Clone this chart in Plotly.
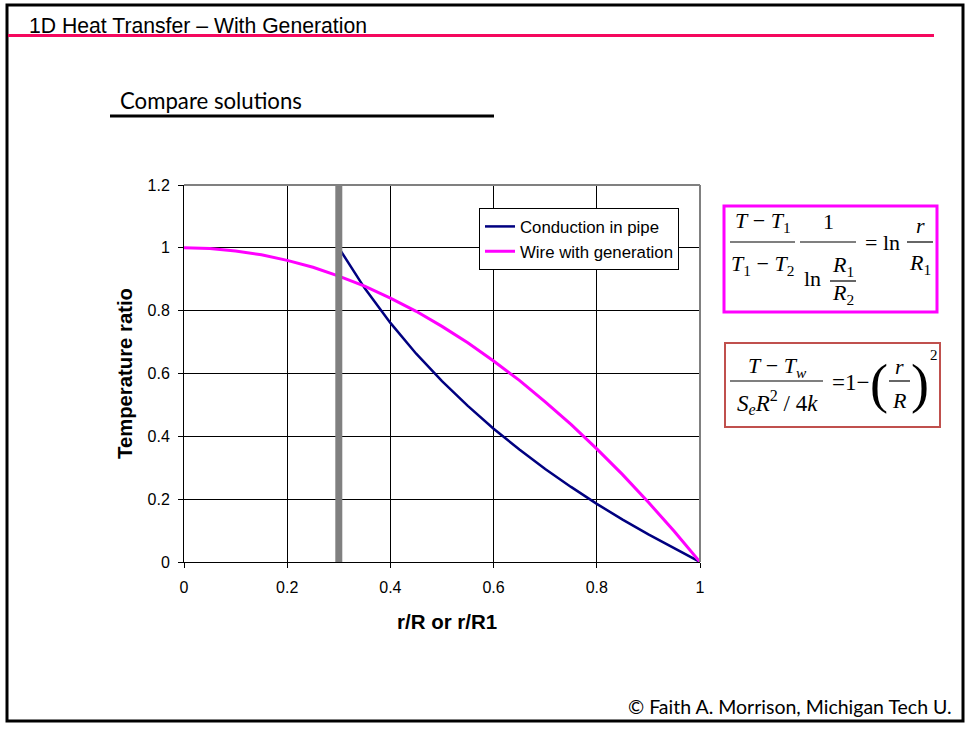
import plotly.graph_objects as go

W, H = 968, 729

# ---------------- data ----------------
pipe_r = [0.30, 0.35, 0.40, 0.45, 0.50, 0.55, 0.60, 0.65, 0.70, 0.75, 0.80, 0.85, 0.90, 0.95, 1.00]
pipe_T = [1.000, 0.872, 0.761, 0.663, 0.576, 0.497, 0.424, 0.358, 0.296, 0.239, 0.185, 0.135, 0.088, 0.043, 0.000]

wire_r = [0.00, 0.05, 0.10, 0.15, 0.20, 0.25, 0.30, 0.35, 0.40, 0.45, 0.50,
          0.55, 0.60, 0.65, 0.70, 0.75, 0.80, 0.85, 0.90, 0.95, 1.00]
wire_T = [1.000, 0.998, 0.990, 0.978, 0.960, 0.938, 0.910, 0.878, 0.840, 0.798, 0.750,
          0.698, 0.640, 0.578, 0.510, 0.438, 0.360, 0.278, 0.190, 0.098, 0.000]

inner_radius = 0.3
x_ticks = [0, 0.2, 0.4, 0.6, 0.8, 1]
x_tick_labels = ["0", "0.2", "0.4", "0.6", "0.8", "1"]
y_ticks = [0, 0.2, 0.4, 0.6, 0.8, 1, 1.2]
y_tick_labels = ["0", "0.2", "0.4", "0.6", "0.8", "1", "1.2"]


def px(x):
    return x / W


def py(y):
    return 1 - y / H


fig = go.Figure()
fig.add_trace(go.Scatter(x=pipe_r, y=pipe_T, mode="lines", name="Conduction in pipe",
                         line=dict(color="#000080", width=2.5)))
fig.add_trace(go.Scatter(x=wire_r, y=wire_T, mode="lines", name="Wire with generation",
                         line=dict(color="#FF00FF", width=3)))

shapes = []
annotations = []

# slide border
shapes.append(dict(type="rect", xref="paper", yref="paper", x0=px(7), x1=px(963), y0=py(721), y1=py(5),
                   line=dict(color="black", width=3)))
# title underline
shapes.append(dict(type="line", xref="paper", yref="paper", x0=px(8), x1=px(934), y0=py(35.5), y1=py(35.5),
                   line=dict(color="#F5085E", width=3)))
# subtitle underline
shapes.append(dict(type="line", xref="paper", yref="paper", x0=px(110), x1=px(494), y0=py(116), y1=py(116),
                   line=dict(color="black", width=3)))
# plot frame top/right gray
shapes.append(dict(type="line", xref="x domain", yref="y domain", x0=0, x1=1, y0=1, y1=1,
                   line=dict(color="#808080", width=2)))
shapes.append(dict(type="line", xref="x domain", yref="y domain", x0=1, x1=1, y0=0, y1=1,
                   line=dict(color="#808080", width=2)))
# inner radius bar
shapes.append(dict(type="line", xref="x", yref="y", x0=inner_radius, x1=inner_radius, y0=0, y1=1.2,
                   line=dict(color="#808080", width=7)))

# equation boxes
shapes.append(dict(type="rect", xref="paper", yref="paper", x0=px(724), x1=px(937), y0=py(312), y1=py(206),
                   line=dict(color="#FF00FF", width=3), fillcolor="white"))
shapes.append(dict(type="rect", xref="paper", yref="paper", x0=px(725), x1=px(940), y0=py(427), y1=py(343),
                   line=dict(color="#C0504D", width=2), fillcolor="white"))


def hline(x0, x1, y):
    shapes.append(dict(type="line", xref="paper", yref="paper", x0=px(x0), x1=px(x1), y0=py(y), y1=py(y),
                       line=dict(color="black", width=1.2)))


def ann(x, y, text, size=22, family="Liberation Serif", xanchor="center", color="black"):
    annotations.append(dict(xref="paper", yref="paper", x=px(x), y=py(y), text=text, showarrow=False,
                            xanchor=xanchor, yanchor="middle", font=dict(family=family, size=size, color=color)))


# text
ann(27, 25, "1D Heat Transfer – With Generation", size=21.2, family="Liberation Sans", xanchor="left")
ann(118, 101, "Compare solutions", size=22.2, family="Lato", xanchor="left")
ann(954, 706, "© Faith A. Morrison, Michigan Tech U.", size=19.5, family="Lato", xanchor="right")
ann(447, 621, "<b>r/R or r/R1</b>", size=20.5, family="Liberation Sans")
annotations.append(dict(xref="paper", yref="paper", x=px(125), y=py(373), text="<b>Temperature ratio</b>",
                        showarrow=False, textangle=-90, xanchor="center", yanchor="middle",
                        font=dict(family="Liberation Sans", size=20.3, color="black")))

# equation 1
ann(763, 222, "<i>T</i> − <i>T</i><sub>1</sub>")
hline(730, 795, 242)
ann(762, 265, "<i>T</i><sub>1</sub> − <i>T</i><sub>2</sub>")
ann(828, 222, "1")
hline(800, 856, 242)
ann(812, 279, "ln")
ann(843, 266, "<i>R</i><sub>1</sub>")
hline(830, 856, 281)
ann(843, 294, "<i>R</i><sub>2</sub>")
ann(882, 243, "= ln")
ann(920, 225, "<i>r</i>")
hline(907, 933, 242)
ann(920, 264, "<i>R</i><sub>1</sub>")

# equation 2
ann(777, 367, "<i>T</i> − <i>T<sub>w</sub></i>")
hline(730, 823, 381)
ann(777, 402, "<i>S<sub>e</sub>R</i><sup>2</sup> / 4<i>k</i>", size=23)
ann(850, 382, "=1−", size=23)
ann(879, 384, "(", size=54)
ann(920, 384, ")", size=54)
ann(899, 366, "<i>r</i>")
hline(889, 910, 381)
ann(899, 400, "<i>R</i>")
ann(934, 355, "2", size=15)

fig.update_layout(
    template="none",
    width=W, height=H, autosize=False,
    margin=dict(l=0, r=0, t=0, b=0, pad=0, autoexpand=False),
    font=dict(family="Liberation Sans", color="black"),
    paper_bgcolor="white", plot_bgcolor="white",
    shapes=shapes, annotations=annotations,
    showlegend=True,
    legend=dict(x=px(479), y=py(208), xanchor="left", yanchor="top",
                bgcolor="white", bordercolor="black", borderwidth=1,
                font=dict(family="Liberation Sans", size=16.8, color="black"),
                tracegroupgap=0, itemwidth=30),
    xaxis=dict(domain=[px(184), px(700)], range=[0, 1], tickvals=x_ticks, ticktext=x_tick_labels,
               automargin=False,
               showgrid=True, gridcolor="black", gridwidth=1, zeroline=False,
               showline=True, linecolor="black", linewidth=1,
               ticks="outside", ticklen=5, tickcolor="black", ticklabelstandoff=6,
               tickfont=dict(family="Liberation Sans", size=16, color="black")),
    yaxis=dict(domain=[py(562), py(185)], range=[0, 1.2], tickvals=y_ticks, ticktext=y_tick_labels,
               automargin=False,
               showgrid=True, gridcolor="black", gridwidth=1, zeroline=False,
               showline=True, linecolor="black", linewidth=1,
               ticks="outside", ticklen=5, tickcolor="black", ticklabelstandoff=5,
               tickfont=dict(family="Liberation Sans", size=16, color="black")),
)

post = "document.body.style.margin='0';document.body.style.padding='0';"

fig.write_html("out.html", config={"displayModeBar": False}, post_script=post)
